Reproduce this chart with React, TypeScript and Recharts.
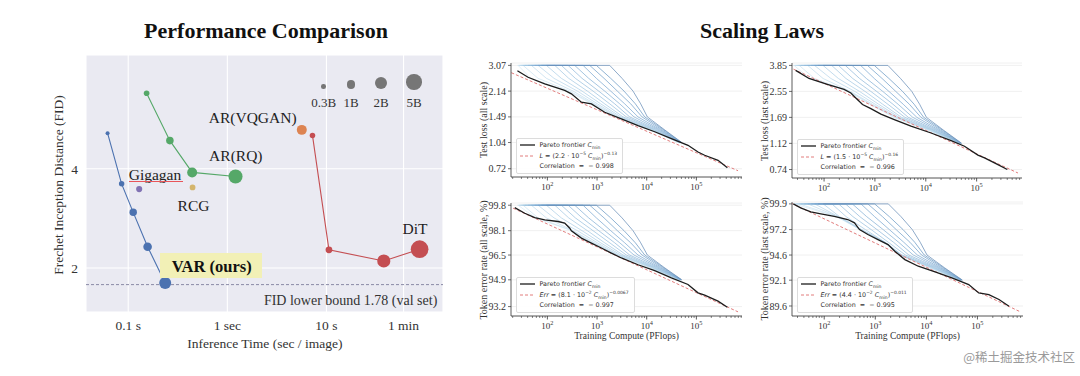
/* eslint-disable */
import React from 'react'
import {ComposedChart, LineChart, Line, Scatter, XAxis, YAxis, CartesianGrid, ReferenceLine} from 'recharts'

const SERIF = '"Liberation Serif", "Times New Roman", serif'
const SANS = '"DejaVu Sans", "Liberation Sans", sans-serif'
const CJK = '"Noto Sans CJK SC", sans-serif'

// ---------- Performance Comparison ----------
// t = inference time (sec / image), fid, p = parameters (B)
const varPoints = [
    {t: 0.0619, fid: 5.13, p: 0.2},
    {t: 0.0858, fid: 3.60, p: 0.45},
    {t: 0.1123, fid: 2.95, p: 0.8},
    {t: 0.1569, fid: 2.32, p: 1.0},
    {t: 0.236, fid: 1.80, p: 2.0},
]
const arRqPoints = [
    {t: 0.1533, fid: 6.78, p: 0.48},
    {t: 0.2633, fid: 4.87, p: 0.82},
    {t: 0.4417, fid: 3.90, p: 1.4},
    {t: 1.21, fid: 3.79, p: 3.8},
]
const gigaganPoints = [{t: 0.129, fid: 3.47, p: 0.57}]
const rcgPoints = [{t: 0.4457, fid: 3.51, p: 0.5}]
const vqganPoints = [{t: 5.64, fid: 5.25, p: 1.4}]
const ditPoints = [
    {t: 7.23, fid: 5.05, p: 0.46},
    {t: 10.6, fid: 2.27, p: 0.675},
    {t: 37.9, fid: 2.10, p: 3.0},
    {t: 87.1, fid: 2.28, p: 7.0},
]
const timeTicks = [0.1, 1, 10, 60]
const timeTickLabels = ['0.1 s', '1 sec', '10 s', '1 min']
const fidTicks = [2, 4]
const fidLowerBound = 1.78
const sizeLegendParams = [0.3, 1, 2, 5]
const sizeLegendLabels = ['0.3B', '1B', '2B', '5B']

// ---------- Scaling Laws ----------
const computeMajorTicks = [100, 1000, 10000, 100000]
const computeMinorSteps = [2, 3, 4, 5, 6, 7, 8, 9]

// Pareto frontiers [compute PFlops, value]
const frontierAllLoss = [[24.9, 2.85], [40.8, 2.60], [88.4, 2.37], [223, 2.16], [304, 2.06], [484, 1.83], [769, 1.79], [1426, 1.59], [3089, 1.45], [6690, 1.32], [14490, 1.21], [31400, 1.10], [67900, 1.00], [108000, 0.91], [147000, 0.87], [273000, 0.81], [421000, 0.73]]
const frontierLastLoss = [[27.6, 3.56], [50.6, 3.13], [116, 2.85], [248, 2.63], [336, 2.49], [421, 2.30], [570, 2.07], [832, 1.94], [1311, 1.78], [2404, 1.63], [5120, 1.47], [12700, 1.32], [31500, 1.17], [57700, 1.07], [106000, 0.93], [143000, 0.89], [262000, 0.80], [401000, 0.74]]
const frontierAllErr = [[22, 99.64], [35, 99.26], [55.6, 98.97], [88.4, 98.82], [164, 98.71], [223, 98.60], [282, 98.26], [304, 98.09], [484, 97.61], [769, 97.28], [1222, 96.96], [1943, 96.63], [3089, 96.31], [6690, 95.87], [14490, 95.49], [31400, 95.02], [67900, 94.60], [108000, 94.07], [147000, 93.92], [273000, 93.54], [421000, 93.16]]
const frontierLastErr = [[24.8, 99.9], [34.6, 99.47], [54.6, 99.05], [85.9, 98.84], [157, 98.59], [289, 98.25], [391, 97.90], [491, 97.20], [717, 96.69], [1129, 96.17], [1778, 95.66], [2409, 94.98], [3793, 94.14], [6950, 93.48], [14800, 92.92], [31600, 92.33], [67500, 91.67], [106000, 90.86], [167000, 90.70], [264000, 90.22], [415000, 89.58]]

// fitted power laws (dashed red), end points
const fitAllLoss = [[18.8, 2.77], [690000, 0.70]]
const fitLastLoss = [[20.4, 3.75], [650000, 0.70]]
const fitAllErr = [[20.4, 99.60], [690000, 92.87]]
const fitLastErr = [[22, 100.0], [655000, 89.1]]

// training runs: compute at which each run reaches the panel's levels
const levelsAllLoss = [3.07, 3.07, 2.56, 2.14, 1.79, 1.49, 1.25, 1.04]
const levelsLastLoss = [3.85, 3.85, 3.13, 2.55, 2.08, 1.69, 1.38, 1.12]
const levelsAllErr = [99.8, 99.8, 98.95, 98.1, 97.3, 96.5, 95.7, 94.9]
const levelsLastErr = [99.9, 99.9, 98.55, 97.2, 95.9, 94.6, 93.35, 92.1]

const runsSmallAllLoss = [
    [24.9, 25.7, 46.2, 253, 793, 2339, 10970, 44000],
    [25.7, 32.4, 64.9, 282, 831, 2451, 11490, 44500],
    [26.5, 47.6, 95.5, 329, 897, 2567, 11850, 45000],
    [27.7, 64.9, 136, 402, 1016, 2731, 12420, 45500],
    [30.0, 95.5, 191, 499, 1185, 2996, 13000, 46000],
    [32.4, 141, 269, 639, 1426, 3337, 13620, 46500],
]
const runsSmallLastLoss = [
    [24.9, 25.7, 52, 305, 793, 2339, 10970, 44000],
    [25.7, 32.4, 64.9, 310, 831, 2451, 11490, 44500],
    [26.5, 47.6, 95.5, 329, 897, 2567, 11850, 45000],
    [27.7, 64.9, 136, 402, 1016, 2731, 12420, 45500],
    [30.0, 95.5, 191, 499, 1185, 2996, 13000, 46000],
    [32.4, 141, 269, 639, 1426, 3337, 13620, 46500],
]
const runsSmallAllErr = [
    [24.9, 25.7, 58, 310, 800, 2500, 10970, 44000],
    [25.7, 32.4, 64.9, 315, 831, 2550, 11490, 44500],
    [26.5, 47.6, 95.5, 329, 897, 2600, 11850, 45000],
    [27.7, 64.9, 136, 402, 1016, 2731, 12420, 45500],
    [30.0, 95.5, 191, 499, 1185, 2996, 13000, 46000],
    [32.4, 141, 269, 639, 1426, 3337, 13620, 46500],
]
const runsSmallLastErr = [
    [24.9, 25.7, 175, 500, 1460, 3080, 10970, 44000],
    [25.7, 32.4, 180, 510, 1480, 3120, 11490, 44500],
    [26.5, 47.6, 185, 520, 1500, 3160, 11850, 45000],
    [27.7, 64.9, 190, 530, 1520, 3200, 12420, 45500],
    [30.0, 95.5, 200, 540, 1540, 3250, 13000, 46000],
    [32.4, 141, 269, 639, 1560, 3337, 13620, 46500],
]
const runsLarge = [
    [35.0, 191, 366, 831, 1799, 3895, 14500, 47000],
    [40.8, 261, 499, 1080, 2268, 4546, 15650, 47500],
    [47.6, 355, 679, 1426, 2861, 5559, 16910, 48000],
    [55.6, 523, 970, 1885, 3606, 6691, 18270, 48700],
    [64.9, 712, 1383, 2567, 4763, 8054, 19740, 49400],
    [75.7, 970, 1885, 3495, 5912, 9116, 21330, 50200],
    [95.5, 1799, 3187, 5307, 7570, 10310, 22340, 51000],
]

// ---------- styles ----------
const VAR_BLUE = '#4c72b0'
const RQ_GREEN = '#55a868'
const DIT_RED = '#c44e52'
const VQGAN_ORANGE = '#dd8452'
const GIGAGAN_PURPLE = '#8172b3'
const RCG_TAN = '#d4b56c'
const SIZE_R = [2.3, 4.3, 6.0, 7.7]
const RUN_COLORS = ['#d6e9f4', '#cde4f1', '#c3ddee', '#b9d7eb', '#afd0e7', '#a5c9e3', '#9bc2df', '#91badb', '#87b2d6', '#7daad1', '#74a2cb', '#6b99c4', '#6a8fb8']

function radiusFor(p: number) {
    const ps = sizeLegendParams
    let i = 0
    while (i < ps.length - 2 && p > ps[i + 1]) i++
    const t = (p - ps[i]) / (ps[i + 1] - ps[i])
    return Math.max(1.6, SIZE_R[i] + t * (SIZE_R[i + 1] - SIZE_R[i]))
}

const dotShape = (color: string) => (props: any) => (
    <circle cx={props.cx} cy={props.cy} r={radiusFor(props.payload.p)} fill={color}/>
)

function Txt({x, y, children, size = 15.5, weight = 400, anchor = 'middle', rotate = 0, color = '#222', family = SERIF, style = {}}: any) {
    const tx = anchor === 'middle' ? '-50%' : anchor === 'end' ? '-100%' : '0'
    return (
        <div style={{
            position: 'absolute', left: x, top: y, whiteSpace: 'nowrap', lineHeight: 1,
            transform: `translate(${tx}, -50%)${rotate ? ` rotate(${rotate}deg)` : ''}`,
            fontSize: size, fontWeight: weight, fontFamily: family, color, ...style,
        }}>{children}</div>
    )
}

function PerformanceChart() {
    const series = [
        {name: 'VAR', data: varPoints, color: VAR_BLUE, line: true},
        {name: 'AR(RQ)', data: arRqPoints, color: RQ_GREEN, line: true},
        {name: 'Gigagan', data: gigaganPoints, color: GIGAGAN_PURPLE, line: false},
        {name: 'RCG', data: rcgPoints, color: RCG_TAN, line: false},
        {name: 'AR(VQGAN)', data: vqganPoints, color: VQGAN_ORANGE, line: false},
        {name: 'DiT', data: ditPoints, color: DIT_RED, line: true},
    ]
    const legendX = [323.7, 351, 381, 414]
    const legendY = [86.7, 84.7, 83, 82]
    return (
        <>
            <div style={{position: 'absolute', left: 0, top: 0}}>
                <ComposedChart width={460} height={376} margin={{top: 55, right: 17, bottom: 39, left: 46}}>
                    <CartesianGrid fill="#eaeaf2" fillOpacity={1} stroke="#ffffff" strokeWidth={1.1}/>
                    <XAxis type="number" dataKey="t" scale="log" domain={[0.0375, 150]} allowDataOverflow
                           ticks={timeTicks} interval={0} height={25} axisLine={false} tickLine={false}
                           tickFormatter={(v: number) => timeTickLabels[timeTicks.indexOf(v)]}
                           tick={{fill: '#333', fontSize: 13.5, fontFamily: SERIF}}/>
                    <YAxis type="number" dataKey="fid" scale="log" domain={[1.47, 8.86]} allowDataOverflow
                           ticks={fidTicks} interval={0} width={40} axisLine={false} tickLine={false}
                           tick={{fill: '#333', fontSize: 13.5, fontFamily: SERIF}}/>
                    <ReferenceLine y={fidLowerBound} stroke="#8a8aa6" strokeDasharray="3 2" strokeWidth={1}/>
                    {series.map(s => (
                        <Scatter key={s.name} name={s.name} data={s.data} fill={s.color}
                                 line={s.line ? {stroke: s.color, strokeWidth: 1.1} : false}
                                 shape={dotShape(s.color)} isAnimationActive={false}/>
                    ))}
                </ComposedChart>
            </div>
            {sizeLegendParams.map((p, i) => {
                const r = radiusFor(p)
                return <div key={i} style={{position: 'absolute', left: legendX[i] - r, top: legendY[i] - r, width: 2 * r, height: 2 * r, borderRadius: '50%', background: '#767676'}}/>
            })}
            {sizeLegendLabels.map((l, i) => <Txt key={l} x={legendX[i]} y={101.7} size={13} color="#333">{l}</Txt>)}
            <Txt x={266} y={31} size={22} weight={700} color="#111">Performance Comparison</Txt>
            <Txt x={252.7} y={118.3}>AR(VQGAN)</Txt>
            <Txt x={235.8} y={155.7}>AR(RQ)</Txt>
            <Txt x={155} y={175}>Gigagan</Txt>
            <div style={{position: 'absolute', left: 128.5, top: 180.5, width: 54, height: 0, borderTop: '1.2px solid #e8555a'}}/>
            <Txt x={193.5} y={206}>RCG</Txt>
            <Txt x={415} y={229.3}>DiT</Txt>
            <div style={{position: 'absolute', left: 160, top: 253.3, width: 101.7, height: 25, background: '#f2f0b6'}}/>
            <Txt x={211.7} y={266.7} size={16.5} weight={700} color="#111">VAR (ours)</Txt>
            <Txt x={437.3} y={300.7} size={14} anchor="end" color="#333">FID lower bound 1.78 (val set)</Txt>
            <Txt x={59} y={185} size={13.5} rotate={-90} color="#333">Frechet Inception Distance (FID)</Txt>
            <Txt x={264.8} y={344} size={13.5} color="#333">Inference Time (sec / image)</Txt>
        </>
    )
}

function PowerTick(props: any) {
    const {x, y, payload} = props
    const e = Math.log10(payload.value)
    const major = Math.abs(e - Math.round(e)) < 1e-9
    return (
        <g>
            <line x1={x} x2={x} y1={y} y2={y + (major ? 3.5 : 2)} stroke="#333" strokeWidth={major ? 0.8 : 0.6}/>
            {major && (
                <text x={x} y={y + 12.5} textAnchor="middle" fontSize={9} fontFamily={SERIF} fill="#333">
                    10<tspan dy={-4} fontSize={6.3}>{Math.round(e)}</tspan>
                </text>
            )}
        </g>
    )
}

const toPts = (a: number[][]) => a.map(([x, y]) => ({x, y}))

function ScalingPanel({spec}: {spec: any}) {
    const padL = 40, padT = 6, padR = 12, padB = 26
    const {left, top, width, height, xDomain, yDomain, yTicks, levels, smallRuns, frontier, fit, yLabel, xLabel, legend} = spec
    const runs = [...smallRuns, ...runsLarge].map((row: number[]) => row.map((x, j) => ({x, y: levels[j]})))
    const ticks = [10, ...computeMajorTicks]
        .flatMap(d => [d, ...computeMinorSteps.map(m => m * d)])
        .filter(t => t >= xDomain[0] && t <= xDomain[1])
    const W = width + padL + padR
    const H = height + padT + padB
    return (
        <div style={{position: 'absolute', left: left - padL, top: top - padT, width: W, height: H}}>
            <LineChart width={W} height={H} margin={{top: padT, right: padR, bottom: 0, left: 0}}>
                <CartesianGrid vertical={false} stroke="#ececec" strokeWidth={0.8}/>
                <XAxis type="number" dataKey="x" scale="log" domain={xDomain} allowDataOverflow ticks={ticks} interval={0}
                       height={padB} tick={<PowerTick/>} tickLine={false} tickSize={0} tickMargin={0}
                       axisLine={{stroke: '#333', strokeWidth: 0.8}}/>
                <YAxis type="number" dataKey="y" scale="log" domain={yDomain} allowDataOverflow ticks={yTicks} interval={0}
                       width={padL} tickSize={3} tickMargin={2} tickLine={{stroke: '#333', strokeWidth: 0.7}}
                       axisLine={{stroke: '#333', strokeWidth: 0.8}}
                       tick={{fill: '#333', fontSize: 10, fontFamily: SERIF}}/>
                {runs.map((d: any, i: number) => (
                    <Line key={i} data={d} dataKey="y" stroke={RUN_COLORS[i]} strokeWidth={0.75} dot={false}
                          isAnimationActive={false}/>
                ))}
                <Line data={toPts(fit)} dataKey="y" stroke="#e27d7d" strokeWidth={1} strokeDasharray="3 2" dot={false}
                      isAnimationActive={false}/>
                <Line data={toPts(frontier)} dataKey="y" stroke="#1c1c1c" strokeWidth={1.3} dot={false}
                      isAnimationActive={false}/>
            </LineChart>
            <Txt x={padL - 27} y={padT + height / 2} size={10} rotate={-90} color="#333">{yLabel}</Txt>
            {xLabel && <Txt x={padL + width / 2} y={padT + height + 20.5} size={9.5} color="#333">{xLabel}</Txt>}
            <div style={{
                position: 'absolute', left: padL + 4.5, bottom: padB + 3.5, background: 'rgba(255,255,255,0.9)',
                border: '0.8px solid #dcdcdc', borderRadius: 2, padding: '1.5px 5px 1.5px 3px',
                fontFamily: SANS, fontSize: 6.4, color: '#333', whiteSpace: 'pre',
            }}>
                {[0, 1, 2].map(row => (
                    <div key={row} style={{display: 'flex', alignItems: 'center', height: 10.3}}>
                        <svg width={15} height={4} style={{marginRight: 5}}>
                            {row === 0 && <line x1={0} x2={15} y1={2} y2={2} stroke="#1c1c1c" strokeWidth={1.3}/>}
                            {row === 1 && <line x1={0} x2={15} y1={2} y2={2} stroke="#e27d7d" strokeWidth={1} strokeDasharray="3 2"/>}
                        </svg>
                        {row === 0 && <span>Pareto frontier <i>C</i><sub style={{fontSize: '0.7em', verticalAlign: '-1.5px'}}>min</sub></span>}
                        {row === 1 && <span><i>{legend.name}</i> = ({legend.coef} · 10<sup style={{fontSize: '0.7em', verticalAlign: '3px'}}>{legend.exp}</sup> <i>C</i><sub style={{fontSize: '0.7em', verticalAlign: '-1.5px'}}>min</sub>)<sup style={{fontSize: '0.7em', verticalAlign: '3px'}}>{legend.pow}</sup></span>}
                        {row === 2 && <span>Correlation  =  − {legend.corr}</span>}
                    </div>
                ))}
            </div>
        </div>
    )
}

const panels = [
    {
        left: 511, top: 63, width: 231, height: 114, xDomain: [18.5, 830000], yDomain: [0.641, 3.175],
        yTicks: [0.72, 1.04, 1.49, 2.14, 3.07], levels: levelsAllLoss, smallRuns: runsSmallAllLoss,
        frontier: frontierAllLoss, fit: fitAllLoss, yLabel: 'Test loss (all scale)', xLabel: '',
        legend: {name: 'L', coef: '2.2', exp: '−5', pow: '−0.13', corr: '0.998'},
    },
    {
        left: 792, top: 63, width: 230, height: 115, xDomain: [23.4, 780000], yDomain: [0.647, 4.0],
        yTicks: [0.74, 1.12, 1.69, 2.55, 3.85], levels: levelsLastLoss, smallRuns: runsSmallLastLoss,
        frontier: frontierLastLoss, fit: fitLastLoss, yLabel: 'Test loss (last scale)', xLabel: '',
        legend: {name: 'L', coef: '1.5', exp: '−5', pow: '−0.16', corr: '0.996'},
    },
    {
        left: 511, top: 203, width: 231, height: 113, xDomain: [18.5, 830000], yDomain: [92.61, 99.95],
        yTicks: [93.2, 94.9, 96.5, 98.1, 99.8], levels: levelsAllErr, smallRuns: runsSmallAllErr,
        frontier: frontierAllErr, fit: fitAllErr, yLabel: 'Token error rate (all scale, %)', xLabel: 'Training Compute (PFlops)',
        legend: {name: 'Err', coef: '8.1', exp: '−2', pow: '−0.0067', corr: '0.997'},
    },
    {
        left: 792, top: 202, width: 231, height: 114, xDomain: [23.4, 780000], yDomain: [88.65, 100.1],
        yTicks: [89.6, 92.1, 94.6, 97.2, 99.9], levels: levelsLastErr, smallRuns: runsSmallLastErr,
        frontier: frontierLastErr, fit: fitLastErr, yLabel: 'Token error rate (last scale, %)', xLabel: 'Training Compute (PFlops)',
        legend: {name: 'Err', coef: '4.4', exp: '−2', pow: '−0.011', corr: '0.995'},
    },
]

export default function App() {
    return (
        <div style={{position: 'absolute', left: 0, top: 0, width: 1080, height: 376, background: '#fff', overflow: 'hidden', fontFamily: SERIF}}>
            <PerformanceChart/>
            <Txt x={762} y={31} size={22} weight={700} color="#111">Scaling Laws</Txt>
            {panels.map((p, i) => <ScalingPanel key={i} spec={p}/>)}
            <Txt x={1075} y={357} size={12.5} anchor="end" family={CJK} color="#9a9a9a"
                 style={{textShadow: '0 0 2px #fff'}}>@稀土掘金技术社区</Txt>
        </div>
    )
}
